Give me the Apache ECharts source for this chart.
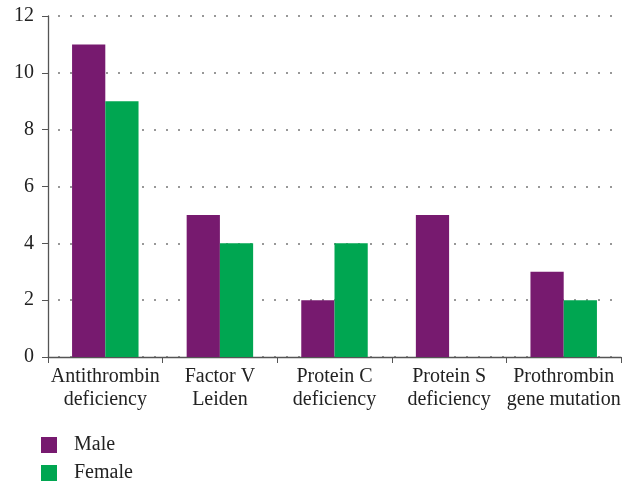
<!DOCTYPE html>
<html><head><meta charset="utf-8">
<script src="https://cdn.jsdelivr.net/npm/echarts@6/dist/echarts.min.js"></script>
<style>html,body{margin:0;padding:0;background:#fff}#c{width:637px;height:483px}</style>
</head><body><div id="c"></div>
<script>
const categories = ["Antithrombin\ndeficiency", "Factor V\nLeiden", "Protein C\ndeficiency", "Protein S\ndeficiency", "Prothrombin\ngene mutation"];
const male = [11, 5, 2, 5, 3];
const female = [9, 4, 4, 0, 2];
const seriesNames = ['Male', 'Female'];
const yTicks = {min: 0, max: 12, interval: 2};
const FONT = "Liberation Serif";
const legendBase = {
  orient: 'vertical', left: 41, padding: 0, itemWidth: 16, itemHeight: 16,
  icon: 'rect',
  textStyle: {fontFamily: FONT, fontSize: 20, color: '#222', padding: [0, 0, 0, 12]}
};
const chart = echarts.init(document.getElementById('c'));
chart.setOption({
  animation: false,
  textStyle: {fontFamily: FONT},
  grid: {left: 48, right: 16, top: 16, bottom: 126, containLabel: false},
  legend: [
    Object.assign({}, legendBase, {top: 435, data: [seriesNames[0]]}),
    Object.assign({}, legendBase, {top: 463, data: [seriesNames[1]]})
  ],
  xAxis: {
    type: 'category', data: categories,
    axisLine: {lineStyle: {color: '#555', width: 1.3}},
    axisTick: {show: true, length: 6, lineStyle: {color: '#555'}},
    axisLabel: {fontFamily: FONT, fontSize: 20, color: '#222', lineHeight: 23, margin: 8, interval: 0}
  },
  yAxis: {
    type: 'value', min: yTicks.min, max: yTicks.max, interval: yTicks.interval,
    axisLine: {show: true, lineStyle: {color: '#555', width: 1.3}},
    axisTick: {show: true, length: 6, lineStyle: {color: '#555'}},
    axisLabel: {fontFamily: FONT, fontSize: 20, color: '#222', margin: 14},
    splitLine: {show: true, lineStyle: {color: '#777', type: [2, 10], dashOffset: -10, width: 1.5}}
  },
  series: [
    {name: seriesNames[0], type: 'bar', data: male, barGap: 0, barCategoryGap: '42%', itemStyle: {color: '#771a6f'}},
    {name: seriesNames[1], type: 'bar', data: female, barGap: 0, barCategoryGap: '42%', itemStyle: {color: '#00a651'}}
  ]
});
</script></body></html>
